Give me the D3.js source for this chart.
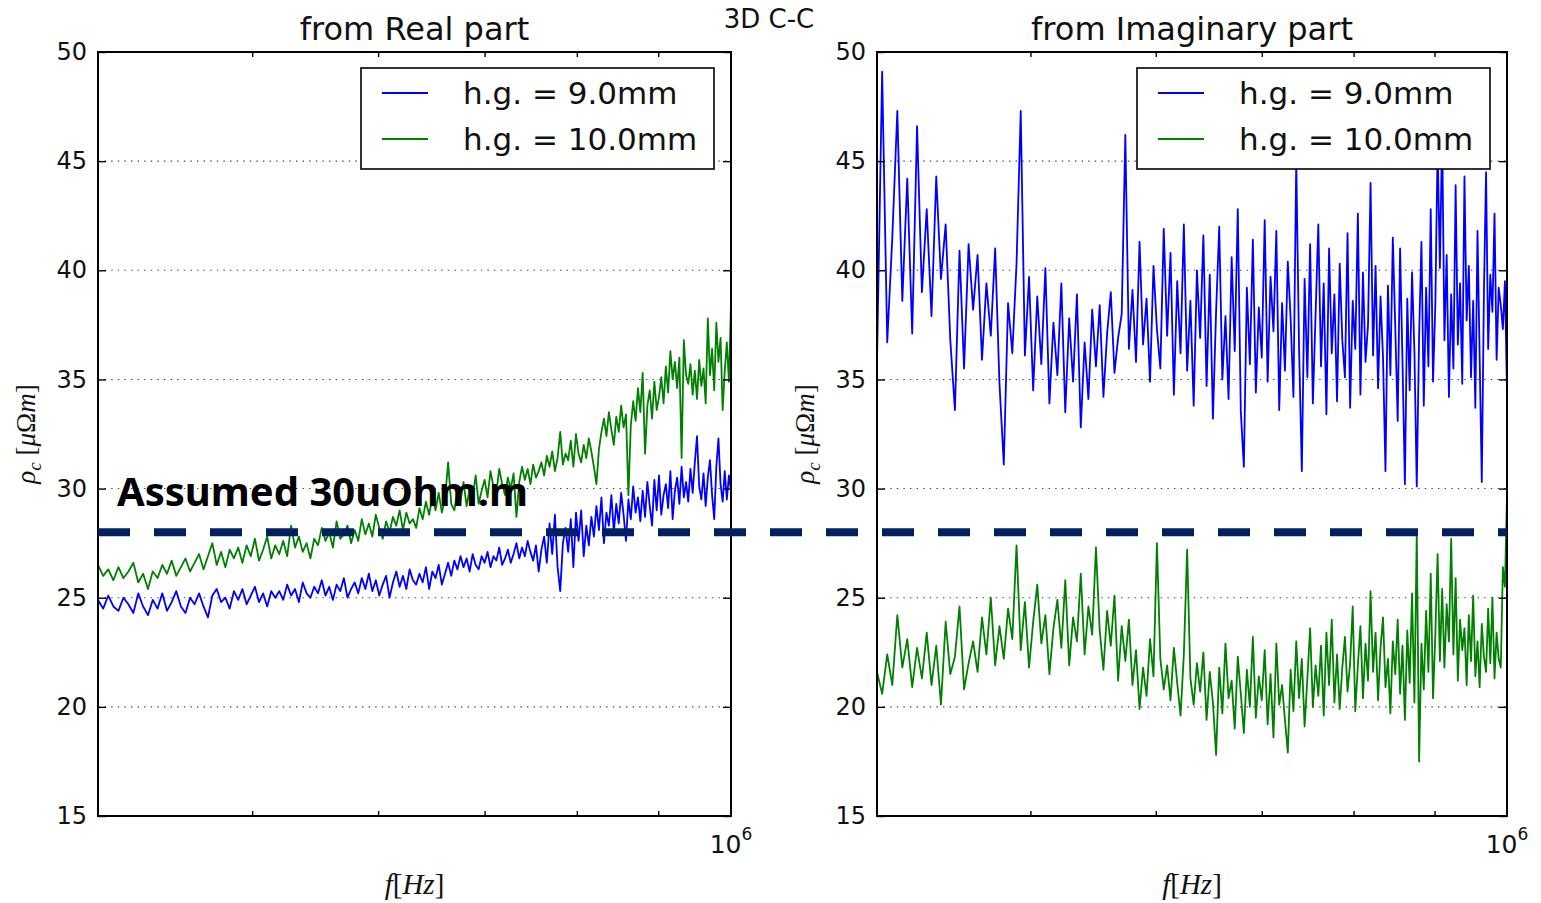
<!DOCTYPE html>
<html>
<head>
<meta charset="utf-8">
<script src="https://cdn.jsdelivr.net/npm/d3@7"></script>
<style>
  body { margin: 0; background: #fff; }
  svg { display: block; }
</style>
</head>
<body>
<svg id="chart" width="1541" height="903"></svg>
<script>
// Sampling frequencies in kHz (3 kHz steps from 400 kHz to 1 MHz)
const freqKHz = [
  400,403,406,409,412,415,418,421,424,427,
  430,433,436,439,442,445,448,451,454,457,
  460,463,466,469,472,475,478,481,484,487,
  490,493,496,499,502,505,508,511,514,517,
  520,523,526,529,532,535,538,541,544,547,
  550,553,556,559,562,565,568,571,574,577,
  580,583,586,589,592,595,598,601,604,607,
  610,613,616,619,622,625,628,631,634,637,
  640,643,646,649,652,655,658,661,664,667,
  670,673,676,679,682,685,688,691,694,697,
  700,703,706,709,712,715,718,721,724,727,
  730,733,736,739,742,745,748,751,754,757,
  760,763,766,769,772,775,778,781,784,787,
  790,793,796,799,802,805,808,811,814,817,
  820,823,826,829,832,835,838,841,844,847,
  850,853,856,859,862,865,868,871,874,877,
  880,883,886,889,892,895,898,901,904,907,
  910,913,916,919,922,925,928,931,934,937,
  940,943,946,949,952,955,958,961,964,967,
  970,973,976,979,982,985,988,991,994,997,
  1000
];

// rho_c [uOhm m] derived from the real part, h.g. = 9.0 mm
const realBlue = [
  24.9,24.5,25.1,24.6,24.4,25.0,24.7,24.3,25.2,24.6,
  24.2,24.9,24.5,25.2,24.4,24.8,25.3,24.6,24.3,25.0,
  24.7,25.2,24.6,24.1,25.1,25.4,24.8,25.0,24.5,25.3,
  24.9,25.4,24.7,25.1,25.5,24.8,25.2,24.6,25.3,25.0,
  25.3,24.9,25.6,25.1,25.4,24.8,25.7,25.2,25.0,25.5,
  25.2,25.8,25.1,25.5,24.9,25.6,25.3,25.9,25.0,25.4,
  25.7,25.2,25.9,25.4,26.1,25.3,25.8,25.1,25.6,26.0,
  25.0,25.7,26.2,25.5,26.0,25.4,26.3,25.8,25.6,26.1,
  25.7,26.4,25.4,26.2,25.9,26.5,25.6,26.1,26.6,26.0,
  26.7,26.3,26.9,26.4,26.8,26.2,27.0,26.5,26.3,26.9,
  26.6,27.1,26.4,26.9,26.7,27.3,26.5,26.8,27.2,26.6,
  27.0,27.5,26.8,27.3,26.9,27.6,27.1,26.7,27.4,26.2,
  27.2,27.8,26.6,28.4,27.0,28.8,26.4,25.3,27.5,28.2,
  27.1,28.6,26.4,28.9,27.6,29.0,26.9,28.3,27.4,28.7,
  27.8,29.2,28.1,29.6,27.5,28.9,28.3,29.7,28.0,29.3,
  28.4,29.8,28.8,27.6,29.5,28.6,30.1,28.9,29.6,28.5,
  29.9,28.7,30.3,29.2,28.3,30.4,29.0,30.6,28.8,29.7,
  30.2,29.1,30.8,28.6,29.9,30.5,29.3,31.0,29.6,30.3,
  29.4,30.9,29.8,31.2,32.4,30.1,29.5,30.7,29.2,30.5,
  31.3,29.7,28.6,31.0,32.3,30.2,29.4,30.8,29.5,30.6,
  29.9
];

// rho_c from the real part, h.g. = 10.0 mm
const realGreen = [
  26.5,26.0,26.3,25.8,26.4,25.9,26.2,26.6,25.7,26.1,
  25.4,26.2,25.9,26.5,26.1,26.7,26.0,26.4,26.8,26.2,
  26.6,27.0,26.3,26.9,27.5,26.5,27.1,26.4,27.2,26.8,
  27.3,26.6,27.4,26.9,27.7,26.7,27.2,27.8,26.8,27.4,
  27.0,27.6,26.9,28.3,27.3,27.8,27.1,27.5,26.8,27.7,
  27.4,28.2,27.6,28.0,27.3,28.5,27.7,27.9,28.3,27.5,
  28.1,27.6,28.6,27.9,28.4,27.8,28.8,28.2,27.7,28.5,
  28.0,28.7,28.3,29.0,28.1,28.9,28.4,28.6,28.2,29.1,
  28.6,29.4,28.8,29.6,29.0,29.8,28.9,29.5,31.2,29.3,
  29.0,29.9,29.4,30.3,29.2,30.0,29.6,30.6,29.3,29.9,
  30.4,29.6,30.8,30.1,29.8,30.9,30.2,29.7,30.5,30.0,
  30.7,28.7,30.3,31.0,30.4,30.9,30.2,31.1,30.5,30.8,
  31.2,30.6,31.5,31.0,31.7,30.8,31.4,32.6,31.1,31.6,
  31.3,32.2,31.0,32.5,31.6,31.2,32.0,31.4,32.3,31.7,
  31.0,30.2,31.8,32.6,33.2,32.4,33.5,32.7,32.0,33.3,
  32.6,33.8,32.8,33.4,29.7,32.9,34.0,33.1,34.6,33.5,
  35.3,31.6,33.8,34.5,33.2,34.9,33.6,34.2,35.1,33.9,
  35.6,34.4,36.3,35.0,35.8,34.6,36.0,31.4,36.8,35.2,
  34.8,35.7,34.3,35.4,34.1,35.9,34.7,35.5,33.9,37.8,
  35.2,36.4,34.5,37.6,35.8,36.9,33.6,35.4,36.7,34.9,
  38.5
];

// rho_c derived from the imaginary part, h.g. = 9.0 mm
const imagBlue = [
  35.8,49.1,36.7,41.5,47.3,38.6,44.2,37.1,46.6,39.0,
  42.8,37.9,44.3,39.6,42.1,36.8,33.6,40.9,35.5,41.2,
  38.2,40.7,35.9,39.4,37.0,41.0,34.8,31.1,38.5,36.2,
  40.3,47.3,36.1,39.7,34.5,38.8,35.7,40.1,33.9,37.6,
  35.2,39.4,33.5,37.8,34.9,38.9,32.8,36.7,34.1,38.2,
  35.6,38.4,34.2,37.1,39.0,35.3,36.9,38.0,46.2,36.4,
  39.1,35.8,41.3,36.6,38.7,34.9,40.2,37.3,35.5,41.9,
  37.0,40.8,34.3,39.5,36.2,42.1,35.4,38.6,33.8,40.0,
  36.9,41.6,34.7,39.8,33.2,38.1,42.0,35.0,37.9,34.1,
  40.6,36.3,42.8,33.5,31.0,39.2,35.7,41.4,34.4,38.3,
  36.0,42.3,34.9,39.7,37.2,41.8,33.6,38.5,35.4,40.4,
  37.8,34.2,45.0,36.5,30.8,39.6,35.1,41.2,33.9,38.0,
  42.1,35.6,39.4,33.4,41.0,36.2,38.9,34.0,40.3,36.8,
  35.1,41.7,33.7,38.6,36.4,42.6,34.3,39.9,35.8,37.5,
  44.0,36.1,40.2,34.6,38.8,36.0,30.8,39.3,35.2,41.5,
  37.4,33.1,41.0,35.8,30.2,38.7,34.5,39.9,36.3,30.1,
  37.0,41.3,33.8,39.2,35.6,42.8,34.9,38.4,45.7,40.1,
  46.4,36.8,40.7,34.2,38.9,35.5,43.9,36.6,39.4,34.8,
  44.3,37.7,40.2,35.1,38.6,33.7,41.8,36.0,30.3,39.0,
  44.5,36.4,39.8,38.1,42.6,35.9,39.2,38.4,37.3,39.5,
  34.4
];

// rho_c from the imaginary part, h.g. = 10.0 mm
const imagGreen = [
  21.6,20.6,22.4,21.0,24.2,21.8,23.1,20.9,22.7,21.3,
  23.4,21.0,22.8,20.1,23.9,21.5,22.3,24.6,20.8,22.0,
  23.0,21.6,24.1,22.4,25.0,21.9,23.7,22.2,24.5,23.1,
  27.4,22.6,24.8,21.8,23.9,25.6,22.9,24.2,21.5,23.6,
  24.9,22.7,25.8,21.9,24.1,23.0,26.1,22.4,24.6,23.3,
  27.3,23.5,21.7,24.4,22.8,25.1,21.2,23.7,22.1,24.0,
  21.0,22.6,19.9,21.8,20.5,23.1,21.4,27.5,22.2,20.8,
  21.9,20.3,22.7,21.1,19.6,22.4,27.2,21.3,20.1,22.0,
  20.7,22.5,19.4,21.6,20.2,17.8,21.8,19.7,22.9,20.4,
  21.2,19.0,22.3,20.6,18.8,21.7,20.0,23.2,19.5,21.4,
  20.3,22.6,19.2,21.5,18.6,22.9,20.1,21.0,19.4,17.9,
  21.7,19.8,23.0,20.4,22.2,19.1,21.3,23.6,20.0,21.9,
  20.5,22.8,19.6,23.4,21.0,24.0,20.2,22.4,19.9,21.8,
  23.2,20.7,22.0,24.6,19.8,21.9,23.7,20.4,22.9,21.2,
  25.3,21.6,23.4,20.3,22.7,24.1,20.9,22.2,19.7,23.0,
  21.5,24.0,20.6,22.8,19.4,23.5,21.1,25.2,20.2,28.0,
  17.5,22.9,20.8,24.4,21.6,26.1,20.4,23.3,27.0,22.1,
  25.4,21.8,24.7,23.0,27.7,22.4,25.9,21.2,24.0,22.6,
  23.6,21.0,24.2,22.1,25.1,21.4,23.0,20.9,23.8,22.3,
  21.6,24.5,22.0,25.0,21.3,23.4,22.2,21.8,26.4,25.5,
  29.7
];

const seriesNames = ["h.g. = 9.0mm", "h.g. = 10.0mm"];
const panelTitles = ["from Real part", "from Imaginary part"];
const yTickValues = [15, 20, 25, 30, 35, 40, 45, 50];
const xMinorTicks = [5e5, 6e5, 7e5, 8e5, 9e5];
const xMajorTicks = [1e6];
const assumedLevel = 28.0;     // level of the dashed reference line
const assumedText = "Assumed 30uOhm.m";
const figureTitle = "3D C-C";

const COLORS = { blue: "#0000ff", green: "#008000", ref: "#002060" };
const SANS = "DejaVu Sans, Bitstream Vera Sans, sans-serif";
const SERIF = "Liberation Serif, DejaVu Serif, serif";

const svg = d3.select("#chart");
const yTop = 52, yBot = 816;
const y = d3.scaleLinear().domain([15, 50]).range([yBot, yTop]);

const panels = [
  { title: panelTitles[0], blue: realBlue, green: realGreen, x0: 98, x1: 731 },
  { title: panelTitles[1], blue: imagBlue, green: imagGreen, x0: 877, x1: 1507 }
];

panels.forEach((p, k) => {
  const x = d3.scaleLog().domain([4e5, 1e6]).range([p.x0, p.x1]);
  p.x = x;
  const g = svg.append("g");

  const clipId = "plotclip" + k;
  svg.append("clipPath").attr("id", clipId)
    .append("rect")
    .attr("x", p.x0).attr("y", yTop)
    .attr("width", p.x1 - p.x0).attr("height", yBot - yTop);

  // dotted horizontal grid
  g.append("g").selectAll("line")
    .data(yTickValues.filter(v => v > 15 && v < 50))
    .join("line")
    .attr("x1", p.x0).attr("x2", p.x1)
    .attr("y1", d => y(d)).attr("y2", d => y(d))
    .attr("stroke", "#444").attr("stroke-width", 1.1)
    .attr("stroke-dasharray", "1.4,5.2");

  // data lines
  const line = d3.line()
    .x((d, i) => x(freqKHz[i] * 1000))
    .y(d => y(d));
  const lines = g.append("g").attr("clip-path", `url(#${clipId})`);
  lines.append("path").datum(p.blue)
    .attr("d", line).attr("fill", "none")
    .attr("stroke", COLORS.blue).attr("stroke-width", 1.8)
    .attr("stroke-linejoin", "round");
  lines.append("path").datum(p.green)
    .attr("d", line).attr("fill", "none")
    .attr("stroke", COLORS.green).attr("stroke-width", 1.8)
    .attr("stroke-linejoin", "round");

  // axes with inward ticks
  const styleAxis = sel => {
    sel.select(".domain").remove();
    sel.selectAll(".tick line").attr("stroke", "#000").attr("stroke-width", 1.4);
    sel.selectAll(".tick text")
      .attr("font-family", SANS).attr("font-size", 24).attr("fill", "#111");
  };
  g.append("g").attr("transform", `translate(${p.x0},0)`)
    .call(d3.axisLeft(y).tickValues(yTickValues).tickSizeInner(-8).tickSizeOuter(0).tickPadding(11))
    .call(styleAxis);
  g.append("g").attr("transform", `translate(${p.x1},0)`)
    .call(d3.axisRight(y).tickValues(yTickValues).tickSizeInner(-8).tickSizeOuter(0).tickFormat(() => ""))
    .call(styleAxis);
  g.append("g").attr("transform", `translate(0,${yBot})`)
    .call(d3.axisBottom(x).tickValues(xMinorTicks).tickSizeInner(-5).tickSizeOuter(0).tickFormat(() => ""))
    .call(styleAxis);
  g.append("g").attr("transform", `translate(0,${yTop})`)
    .call(d3.axisTop(x).tickValues(xMinorTicks).tickSizeInner(-5).tickSizeOuter(0).tickFormat(() => ""))
    .call(styleAxis);

  // major tick label 10^6
  xMajorTicks.forEach(v => {
    const exp = Math.round(Math.log10(v));
    const t = g.append("text")
      .attr("x", x(v)).attr("y", 853)
      .attr("text-anchor", "middle")
      .attr("font-family", SANS).attr("font-size", 25).attr("fill", "#111");
    t.append("tspan").text("10");
    t.append("tspan").attr("dy", -13).attr("font-size", 17).text(String(exp));
  });

  // frame
  g.append("rect")
    .attr("x", p.x0).attr("y", yTop)
    .attr("width", p.x1 - p.x0).attr("height", yBot - yTop)
    .attr("fill", "none").attr("stroke", "#000").attr("stroke-width", 2);

  // panel title
  g.append("text")
    .attr("x", (p.x0 + p.x1) / 2).attr("y", 40)
    .attr("text-anchor", "middle")
    .attr("font-family", SANS).attr("font-size", 32).attr("fill", "#111")
    .text(p.title);

  // x label  f[Hz]
  const xl = g.append("text")
    .attr("x", (p.x0 + p.x1) / 2).attr("y", 894)
    .attr("text-anchor", "middle")
    .attr("font-family", SERIF).attr("font-size", 29).attr("fill", "#111");
  xl.append("tspan").attr("font-style", "italic").text("f");
  xl.append("tspan").text("[");
  xl.append("tspan").attr("font-style", "italic").text("Hz");
  xl.append("tspan").text("]");

  // y label  rho_c [mu Omega m]
  const yl = g.append("text")
    .attr("transform", `translate(${p.x0 - 63},${(yTop + yBot) / 2}) rotate(-90)`)
    .attr("text-anchor", "middle")
    .attr("font-family", SERIF).attr("font-size", 27).attr("fill", "#111");
  yl.append("tspan").attr("font-style", "italic").text("ρ");
  yl.append("tspan").attr("font-style", "italic").attr("font-size", 19).attr("dy", 6).text("c");
  yl.append("tspan").attr("dy", -6).text(" [");
  yl.append("tspan").attr("font-style", "italic").text("μ");
  yl.append("tspan").text("Ω");
  yl.append("tspan").attr("font-style", "italic").text("m");
  yl.append("tspan").text("]");

  // legend
  const lx = p.x1 - 370, ly = yTop + 16;
  const leg = g.append("g").attr("transform", `translate(${lx},${ly})`);
  leg.append("rect")
    .attr("width", 353).attr("height", 101)
    .attr("fill", "#fff").attr("stroke", "#000").attr("stroke-width", 1.6);
  const legendColors = [COLORS.blue, COLORS.green];
  seriesNames.forEach((name, i) => {
    const ry = 25 + i * 46;
    leg.append("line")
      .attr("x1", 21).attr("x2", 67).attr("y1", ry).attr("y2", ry)
      .attr("stroke", legendColors[i]).attr("stroke-width", 1.8);
    leg.append("text")
      .attr("x", 102).attr("y", ry + 11)
      .attr("font-family", SANS).attr("font-size", 31).attr("fill", "#111")
      .text(name);
  });
});

// figure title
svg.append("text")
  .attr("x", 769).attr("y", 28)
  .attr("text-anchor", "middle")
  .attr("font-family", SANS).attr("font-size", 26).attr("fill", "#111")
  .text(figureTitle);

// dashed reference level spanning both panels
svg.append("line")
  .attr("x1", panels[0].x0).attr("x2", panels[1].x1)
  .attr("y1", y(assumedLevel)).attr("y2", y(assumedLevel))
  .attr("stroke", COLORS.ref).attr("stroke-width", 8)
  .attr("stroke-dasharray", "32,24");

svg.append("text")
  .attr("x", 117).attr("y", 506)
  .attr("font-family", "Noto Sans, Open Sans, sans-serif")
  .attr("font-weight", "bold").attr("font-size", 40).attr("fill", "#000")
  .text(assumedText);
</script>
</body>
</html>
